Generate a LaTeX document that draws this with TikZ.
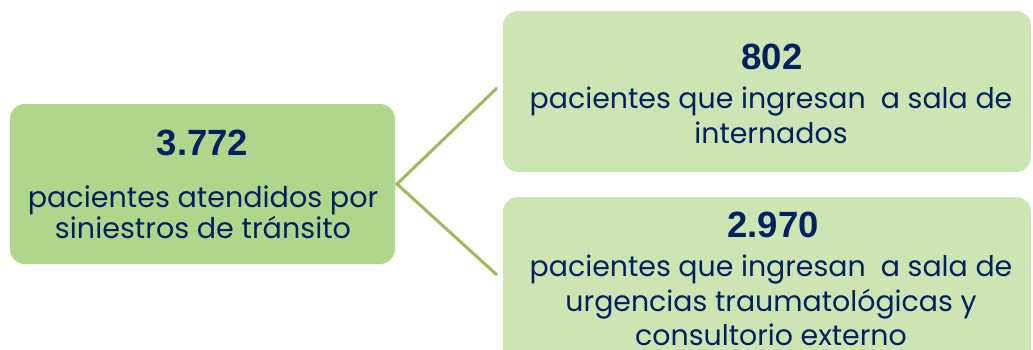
\documentclass[tikz,border=0pt]{standalone}
\usepackage{fontspec}
\setmainfont{Poppins}
\newfontfamily\numfont{Liberation Sans}
\definecolor{navytext}{RGB}{0,32,96}
\definecolor{totalgreen}{RGB}{176,214,140}
\definecolor{partgreen}{RGB}{204,229,179}
\definecolor{linkgreen}{RGB}{155,187,89}
\tikzset{
    greenbox/.style={rounded corners=15pt, inner sep=0pt, draw=none},
    numlabel/.style={text=navytext, inner sep=0pt, font=\numfont\bfseries\fontsize{36.5}{42}\selectfont},
    bodylabel/.style={text=navytext, inner sep=0pt, align=center, anchor=north},
    link/.style={draw=linkgreen, line width=3pt}
}
\begin{document}
\begin{tikzpicture}[x=1pt,y=-1pt]
    \useasboundingbox (0,0) rectangle (1033,349);
    \clip (0,0) rectangle (1033,349);
    % boxes
    \node[greenbox, fill=totalgreen, minimum width=385pt, minimum height=160pt] (total) at (202.5,184) {};
    \node[greenbox, fill=partgreen, minimum width=528pt, minimum height=161pt] (internados) at (767,91.5) {};
    \node[greenbox, fill=partgreen, minimum width=528pt, minimum height=170pt] (urgencias) at (767,282) {};
    % texts
    \node[numlabel] (totalnum) at (202.5,142.5) {3.772};
    \node[bodylabel, font=\fontsize{28.6}{31}\selectfont] (totaltxt) at (203,186) {pacientes atendidos por\\siniestros de tránsito};
    \node[numlabel] (internum) at (772,56.5) {802};
    \node[bodylabel, font=\fontsize{28.4}{34.5}\selectfont] (intertxt) at (771,87) {pacientes que ingresan~ a sala de\\internados};
    \node[numlabel] (urgnum) at (773,224.5) {2.970};
    \node[bodylabel, font=\fontsize{28.4}{34.5}\selectfont] (urgtxt) at (771,255) {pacientes que ingresan~ a sala de\\urgencias traumatológicas y\\consultorio externo};
    % connector
    \coordinate (fork) at (397,184);
    \coordinate (uptip) at (497,88);
    \coordinate (downtip) at (497,275);
    \draw[link] (uptip) -- (fork) -- (downtip);
\end{tikzpicture}
\end{document}
